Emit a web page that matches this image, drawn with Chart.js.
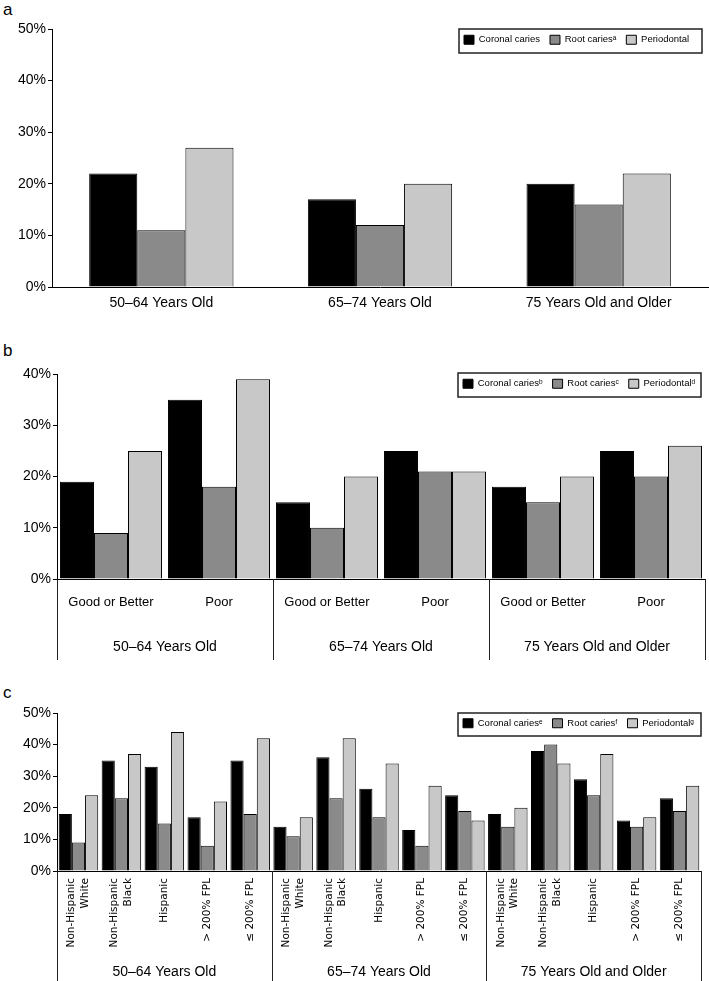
<!DOCTYPE html>
<html>
<head>
<meta charset="utf-8">
<script src="https://cdn.jsdelivr.net/npm/chart.js@4.4.0/dist/chart.umd.min.js"></script>
<style>
  body { margin: 0; background: #fff; width: 709px; height: 981px; position: relative; overflow: hidden;
         font-family: 'Liberation Sans', Arial, sans-serif; }
  .panel-label { position: absolute; left: 3px; font-size: 17px; color: #000; line-height: 20px; }
  canvas { position: absolute; left: 0; }
</style>
</head>
<body>
<div class="panel-label" style="top:0px">a</div>
<canvas id="chartA" width="709" height="330" style="top:0px"></canvas>
<div class="panel-label" style="top:341px">b</div>
<canvas id="chartB" width="709" height="330" style="top:330px"></canvas>
<div class="panel-label" style="top:683px">c</div>
<canvas id="chartC" width="709" height="321" style="top:660px"></canvas>

<script>
// series shared by all three panels
const seriesNames = ['Coronal caries', 'Root caries', 'Periodontal'];
const seriesColors = ['#000000', '#8a8a8a', '#c8c8c8'];
const ageGroups = ['50–64 Years Old', '65–74 Years Old', '75 Years Old and Older'];

// a: by age group
const aSup = ['', 'ᵃ', ''];
const aCoronal = [22, 17, 20];
const aRoot = [11, 12, 16];
const aPerio = [27, 20, 22];

// b: self-rated health within age group
const bSup = ['ᵇ', 'ᶜ', 'ᵈ'];
const healthLabels = ['Good or Better', 'Poor', 'Good or Better', 'Poor', 'Good or Better', 'Poor'];
const bCoronal = [19, 35, 15, 25, 18, 25];
const bRoot = [9, 18, 10, 21, 15, 20];
const bPerio = [25, 39, 20, 21, 20, 26];

// c: race/ethnicity and income within age group
const cSup = ['ᵉ', 'ᶠ', 'ᵍ'];
const cSubgroups = [['Non-Hispanic', 'White'], ['Non-Hispanic', 'Black'], 'Hispanic', '> 200% FPL', '≤ 200% FPL'];
const cLabels = [...cSubgroups, ...cSubgroups, ...cSubgroups];
const cCoronal = [18, 35, 33, 17, 35, 14, 36, 26, 13, 24, 18, 38, 29, 16, 23];
const cRoot = [9, 23, 15, 8, 18, 11, 23, 17, 8, 19, 14, 40, 24, 14, 19];
const cPerio = [24, 37, 44, 22, 42, 17, 42, 34, 27, 16, 20, 34, 37, 17, 27];

Chart.defaults.font.family = "'Liberation Sans', Arial, sans-serif";
Chart.defaults.color = '#000';

const LEGEND_PAD = 10;

// moves the legend into its framed box and draws the group separators under the axis
const framePlugin = {
  id: 'frames',
  afterLayout(chart, args, opts) {
    const lg = chart.legend;
    if (!lg || !opts.box) return;
    const [fx, fy, fw, fh] = opts.box;
    lg.left = fx - 5;
    lg.right = fx + fw + 60;
    lg.width = lg.right - lg.left;
    lg.top = fy + fh / 2 - LEGEND_PAD - 6;
    lg.bottom = lg.top + fh;
    lg.height = fh;
  },
  afterDraw(chart, args, opts) {
    const ctx = chart.ctx;
    ctx.save();
    ctx.strokeStyle = '#222';
    if (opts.box) {
      const [fx, fy, fw, fh] = opts.box;
      ctx.lineWidth = 1.5;
      ctx.strokeRect(fx, fy, fw, fh);
    }
    if (opts.groups) {
      const x2 = chart.scales.x2;
      const ca = chart.chartArea;
      ctx.lineWidth = 1;
      ctx.beginPath();
      for (let i = 0; i <= opts.groups; i++) {
        const x = Math.round(x2.left + i * x2.width / opts.groups) + 0.5;
        ctx.moveTo(x, ca.bottom);
        ctx.lineTo(x, chart.height);
      }
      ctx.stroke();
    }
    ctx.restore();
  }
};

function barSets(values, sup, catPct) {
  return values.map((v, i) => ({
    label: seriesNames[i] + sup[i],
    data: v,
    backgroundColor: seriesColors[i],
    borderColor: '#000',
    borderWidth: 1,
    barPercentage: 1,
    categoryPercentage: catPct
  }));
}

function yAxis(max, step, width) {
  return {
    min: 0,
    max: max,
    ticks: { stepSize: step, callback: v => v + '%', font: { size: 14 }, padding: 2 },
    grid: { drawOnChartArea: false, tickLength: 4, color: '#000' },
    border: { color: '#000' },
    afterFit: s => { s.width = width; }
  };
}

function plugins(box, groups) {
  return {
    legend: {
      maxHeight: 1,
      align: 'start',
      labels: { boxWidth: 10, boxHeight: 9, padding: LEGEND_PAD, color: '#000', font: { size: 9.5 } }
    },
    tooltip: { enabled: false },
    frames: { box: box, groups: groups }
  };
}

function groupAxis(padding, height) {
  return {
    type: 'category',
    labels: ageGroups,
    offset: true,
    position: 'bottom',
    weight: 1,
    grid: { display: false, drawTicks: false },
    border: { display: false },
    ticks: { font: { size: 14 }, padding: padding },
    afterFit: s => { s.height = height; }
  };
}

new Chart(document.getElementById('chartA'), {
  type: 'bar',
  data: { labels: ageGroups, datasets: barSets([aCoronal, aRoot, aPerio], aSup, 0.66) },
  options: {
    responsive: false,
    animation: false,
    layout: { padding: { top: 28, right: 1, left: 0, bottom: 0 } },
    plugins: plugins([459, 29, 243, 24], 0),
    scales: {
      x: {
        grid: { display: false, drawTicks: false },
        border: { color: '#000' },
        ticks: { font: { size: 14 }, padding: 8 },
        afterFit: s => { s.height = 43; }
      },
      y: yAxis(50, 10, 52)
    }
  },
  plugins: [framePlugin]
});

new Chart(document.getElementById('chartB'), {
  type: 'bar',
  data: { labels: healthLabels, datasets: barSets([bCoronal, bRoot, bPerio], bSup, 0.945) },
  options: {
    responsive: false,
    animation: false,
    layout: { padding: { top: 43, right: 4, left: 0, bottom: 0 } },
    plugins: plugins([458, 43, 243, 24], ageGroups.length),
    scales: {
      x: {
        grid: { display: false, drawTicks: false },
        border: { color: '#000' },
        ticks: { font: { size: 13 }, padding: 16 },
        afterFit: s => { s.height = 45; }
      },
      x2: groupAxis(15, 36),
      y: yAxis(40, 10, 57)
    }
  },
  plugins: [framePlugin]
});

new Chart(document.getElementById('chartC'), {
  type: 'bar',
  data: { labels: cLabels, datasets: barSets([cCoronal, cRoot, cPerio], cSup, 0.92) },
  options: {
    responsive: false,
    animation: false,
    layout: { padding: { top: 52, right: 8, left: 0, bottom: 0 } },
    plugins: plugins([458, 53, 243, 23], ageGroups.length),
    scales: {
      x: {
        grid: { display: false, drawTicks: false },
        border: { color: '#000' },
        ticks: {
          font: { size: 10.5, family: "'DejaVu Sans', sans-serif", lineHeight: 1.3 },
          minRotation: 90, maxRotation: 90, autoSkip: false, padding: 7, labelOffset: -7,
          // single-line labels get a transparent backdrop so they keep the same centring as the two-line ones
          showLabelBackdrop: ctx => !Array.isArray(cLabels[ctx.index]),
          backdropColor: 'rgba(0,0,0,0)'
        },
        afterFit: s => { s.height = 85; }
      },
      x2: groupAxis(8, 25),
      y: yAxis(50, 5, 57)
    }
  },
  plugins: [framePlugin]
});
</script>
</body>
</html>
